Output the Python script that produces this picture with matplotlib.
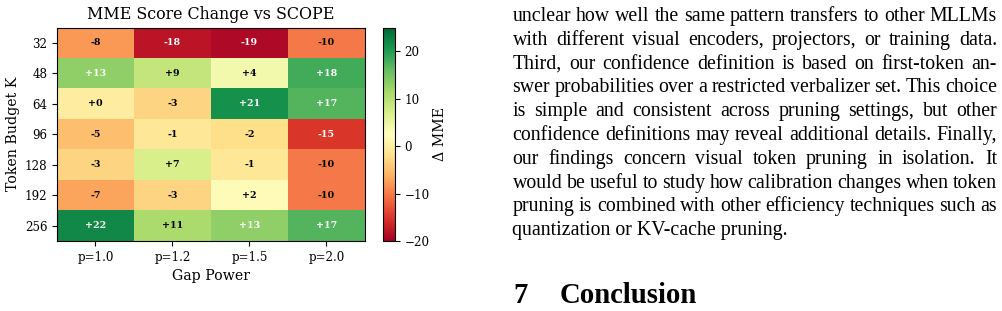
import matplotlib
matplotlib.use("Agg")
import matplotlib.pyplot as plt
import numpy as np

# ---------------- data ----------------
budgets = ["32", "48", "64", "96", "128", "192", "256"]
powers = ["p=1.0", "p=1.2", "p=1.5", "p=2.0"]
delta_p10 = [-8, 13, 0, -5, -3, -7, 22]
delta_p12 = [-18, 9, -3, -1, 7, -3, 11]
delta_p15 = [-19, 4, 21, -2, -1, 2, 13]
delta_p20 = [-10, 18, 17, -15, -10, -10, 17]

paragraph_lines = [
    "unclear how well the same pattern transfers to other MLLMs",
    "with different visual encoders, projectors, or training data.",
    "Third, our confidence definition is based on first-token an-",
    "swer probabilities over a restricted verbalizer set. This choice",
    "is simple and consistent across pruning settings, but other",
    "confidence definitions may reveal additional details. Finally,",
    "our findings concern visual token pruning in isolation.  It",
    "would be useful to study how calibration changes when token",
    "pruning is combined with other efficiency techniques such as",
    "quantization or KV-cache pruning.",
]
section_number = "7"
section_title = "Conclusion"

# ---------------- figure ----------------
W, H = 1003, 311
fig = plt.figure(figsize=(W / 100, H / 100), dpi=100)
fig.patch.set_facecolor("white")


def px_axes(l, t, r, b):
    return fig.add_axes([l / W, 1 - b / H, (r - l) / W, (b - t) / H])


serif = "DejaVu Serif"
ax = px_axes(57, 27.5, 365, 241)
data = np.array([delta_p10, delta_p12, delta_p15, delta_p20]).T
im = ax.imshow(data, cmap="RdYlGn", vmin=-20, vmax=25, aspect="auto")
ax.set_xticks(range(len(powers)))
ax.set_xticklabels(powers, family=serif, fontsize=8.6)
ax.set_yticks(range(len(budgets)))
ax.set_yticklabels(budgets, family=serif, fontsize=8.6)
ax.set_xlabel("Gap Power", family=serif, fontsize=10.2)
ax.set_ylabel("Token Budget K", family=serif, fontsize=10.2, labelpad=3)
ax.set_title("MME Score Change vs SCOPE", family=serif, fontsize=11.4)
for i in range(data.shape[0]):
    for j in range(data.shape[1]):
        v = data[i, j]
        ax.text(j, i, f"{v:+d}", ha="center", va="center", family=serif,
                fontweight="bold", fontsize=6.8,
                color="white" if abs(v) > 12 else "black")

cax = px_axes(383.5, 27.5, 395, 241)
cb = fig.colorbar(im, cax=cax)
cb.set_ticks([-20, -10, 0, 10, 20])
for t in cb.ax.get_yticklabels():
    t.set_family(serif)
    t.set_fontsize(8.6)
cb.set_label("Δ MME", family=serif, fontsize=10.2, labelpad=2)

# ---------------- paragraph text ----------------
renderer = fig.canvas.get_renderer()
tfam = "Liberation Serif"


def text_width(s, fs, weight="normal"):
    t = fig.text(0, 0, s, fontsize=fs, family=tfam, fontweight=weight)
    w = t.get_window_extent(renderer).width
    t.remove()
    return w


fs = 10 * 275 / text_width(paragraph_lines[-1], 10)
left_px, right_px = 512.5, 997
base0, step = 21.0, 23.8
for k, line in enumerate(paragraph_lines):
    y = 1 - (base0 + k * step) / H
    if k == len(paragraph_lines) - 1:
        fig.text(left_px / W, y, line, fontsize=fs, family=tfam,
                 va="baseline", ha="left")
        continue
    words = line.split()
    widths = [text_width(w_, fs) for w_ in words]
    gap = (right_px - left_px - sum(widths)) / (len(words) - 1)
    x = left_px
    for w_, wd in zip(words, widths):
        fig.text(x / W, y, w_, fontsize=fs, family=tfam,
                 va="baseline", ha="left")
        x += wd + gap

hfs = 10 * 137 / text_width(section_title, 10, "bold")
fig.text(513 / W, 1 - 303 / H, section_number, fontsize=hfs, family=tfam,
         fontweight="bold", va="baseline", ha="left")
fig.text(560 / W, 1 - 303 / H, section_title, fontsize=hfs, family=tfam,
         fontweight="bold", va="baseline", ha="left")

fig.savefig("out.png", dpi=100, facecolor="white")
